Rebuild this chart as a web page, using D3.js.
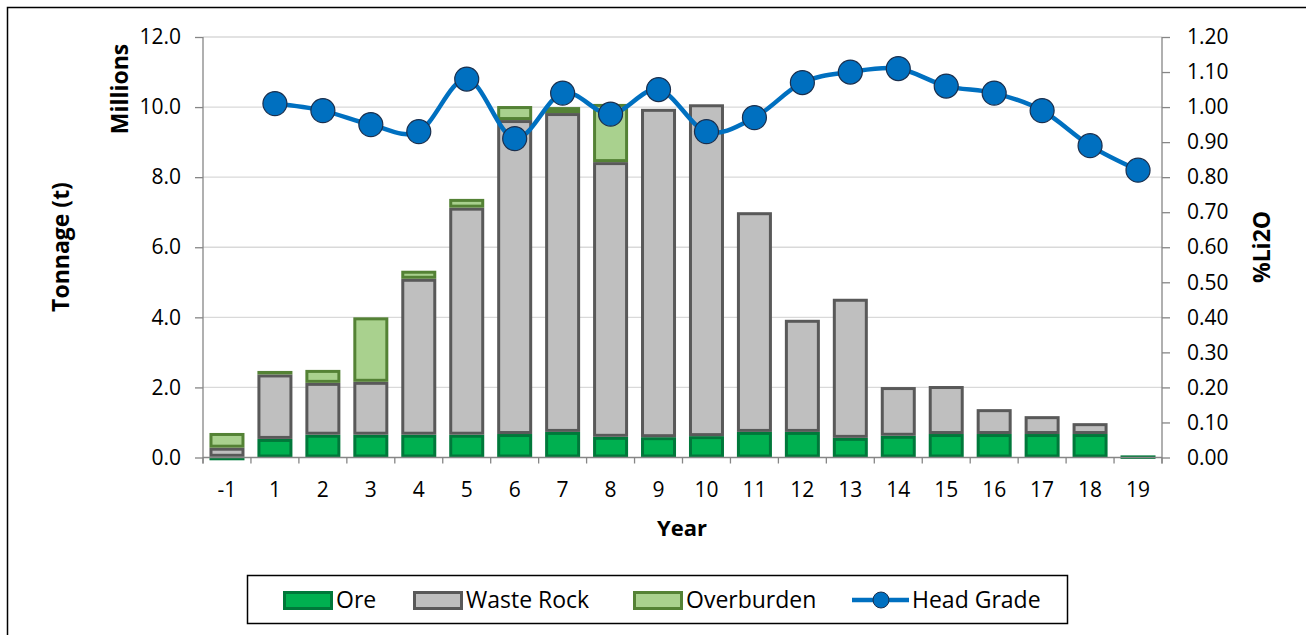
<!DOCTYPE html>
<html>
<head>
<meta charset="utf-8">
<script src="https://cdn.jsdelivr.net/npm/d3@7"></script>
<style>
    body { margin: 0; background: white; }
    svg { display: block; font-family: "Open Sans", sans-serif; }
</style>
</head>
<body>
<div id="chart"></div>
<script>
const years = ["-1", "1", "2", "3", "4", "5", "6", "7", "8", "9", "10", "11", "12", "13", "14", "15", "16", "17", "18", "19"];
const ore = [0.02, 0.53, 0.65, 0.65, 0.65, 0.65, 0.67, 0.73, 0.59, 0.58, 0.61, 0.73, 0.73, 0.56, 0.62, 0.67, 0.67, 0.67, 0.67, 0.06];
const wasteRock = [0.26, 1.84, 1.48, 1.51, 4.45, 6.48, 8.96, 9.10, 7.84, 9.37, 9.47, 6.27, 3.20, 3.97, 1.39, 1.37, 0.71, 0.51, 0.31, 0.0];
const overburden = [0.42, 0.10, 0.37, 1.84, 0.23, 0.25, 0.40, 0.17, 1.66, 0.0, 0.0, 0.0, 0.0, 0.0, 0.0, 0.0, 0.0, 0.0, 0.0, 0.0];
const headGrade = [null, 1.01, 0.99, 0.95, 0.93, 1.08, 0.91, 1.04, 0.98, 1.05, 0.93, 0.97, 1.07, 1.10, 1.11, 1.06, 1.04, 0.99, 0.89, 0.82];
const leftTicks = [0, 2, 4, 6, 8, 10, 12];
const rightTicks = d3.range(0, 13).map(d => d / 10);

const width = 1306, height = 635;
const plot = { left: 203, right: 1162, top: 37, bottom: 457.5 };

const svg = d3.select("#chart").append("svg")
    .attr("width", width)
    .attr("height", height);

// outer frame (runs off the right and bottom edge)
svg.append("rect")
    .attr("x", 7.5).attr("y", 7.5)
    .attr("width", width + 20).attr("height", height + 20)
    .attr("fill", "none").attr("stroke", "black").attr("stroke-width", 1.5);

const x = d3.scaleBand().domain(years).range([plot.left, plot.right]).paddingInner(0.27).paddingOuter(0.135);
const yLeft = d3.scaleLinear().domain([0, 12]).range([plot.bottom, plot.top]);
const yRight = d3.scaleLinear().domain([0, 1.2]).range([plot.bottom, plot.top]);

// gridlines
svg.append("g")
    .selectAll("line")
    .data(leftTicks.filter(d => d > 0))
    .enter().append("line")
    .attr("x1", plot.left).attr("x2", plot.right)
    .attr("y1", d => yLeft(d)).attr("y2", d => yLeft(d))
    .attr("stroke", "#d9d9d9").attr("stroke-width", 1.3);

// stacked bars
const rows = years.map((y, i) => ({ year: y, ore: ore[i], waste: wasteRock[i], over: overburden[i] }));
const keys = ["ore", "waste", "over"];
const fills = { ore: "#00b050", waste: "#bfbfbf", over: "#a9d18e" };
const strokes = { ore: "#00783a", waste: "#595959", over: "#548235" };
const stacked = d3.stack().keys(keys)(rows);

svg.append("g")
    .selectAll("g")
    .data(stacked)
    .enter().append("g")
    .attr("fill", d => fills[d.key])
    .attr("stroke", d => strokes[d.key])
    .attr("stroke-width", 3)
    .selectAll("rect")
    .data(d => d.filter(p => p[1] - p[0] > 0))
    .enter().append("rect")
    .attr("x", d => x(d.data.year) + 1.5)
    .attr("width", x.bandwidth() - 3)
    .attr("y", d => yLeft(d[1]) + 1.5)
    .attr("height", d => Math.max(0.5, yLeft(d[0]) - yLeft(d[1]) - 3));

// axes
const axisColor = "#868686";
const tickFont = 21;
const axisLeft = svg.append("g")
    .attr("transform", `translate(${plot.left},0)`)
    .call(d3.axisLeft(yLeft).tickValues(leftTicks).tickFormat(d3.format(".1f")).tickSize(8).tickPadding(14));
const axisRight = svg.append("g")
    .attr("transform", `translate(${plot.right},0)`)
    .call(d3.axisRight(yRight).tickValues(rightTicks).tickFormat(d3.format(".2f")).tickSize(8).tickPadding(17));

const bottom = svg.append("g");
bottom.append("line")
    .attr("x1", plot.left).attr("x2", plot.right)
    .attr("y1", plot.bottom).attr("y2", plot.bottom)
    .attr("stroke", axisColor).attr("stroke-width", 1.3);
const boundaries = years.map(y => x(y) - x.step() * x.paddingInner() / 2).concat([plot.right]);
bottom.selectAll("line.tick")
    .data(boundaries)
    .enter().append("line")
    .attr("class", "tick")
    .attr("x1", d => d).attr("x2", d => d)
    .attr("y1", plot.bottom).attr("y2", plot.bottom + 6)
    .attr("stroke", axisColor).attr("stroke-width", 1.3);
bottom.selectAll("text")
    .data(years)
    .enter().append("text")
    .attr("x", d => x(d) + x.bandwidth() / 2)
    .attr("y", 497)
    .attr("text-anchor", "middle")
    .attr("font-size", tickFont)
    .attr("fill", "#000")
    .text(d => d);

[axisLeft, axisRight].forEach(a => {
    a.select(".domain").attr("stroke", axisColor).attr("stroke-width", 1.3);
    a.selectAll(".tick line").attr("stroke", axisColor).attr("stroke-width", 1.3);
    a.selectAll(".tick text").attr("font-size", tickFont).attr("fill", "#000").attr("font-family", "Open Sans");
});
axisLeft.select(".domain").attr("d", `M0,${plot.top}V${plot.bottom + 6}`);
axisRight.select(".domain").attr("d", `M0,${plot.top}V${plot.bottom + 6}`);

// head grade line
const pts = years.map((y, i) => ({ year: y, v: headGrade[i] })).filter(d => d.v !== null);
const line = d3.line()
    .x(d => x(d.year) + x.bandwidth() / 2)
    .y(d => yRight(d.v))
    .curve(d3.curveCatmullRom.alpha(0));

svg.append("path")
    .datum(pts)
    .attr("fill", "none")
    .attr("stroke", "#0070c0")
    .attr("stroke-width", 4.5)
    .attr("d", line);

svg.append("g")
    .selectAll("circle")
    .data(pts)
    .enter().append("circle")
    .attr("cx", d => x(d.year) + x.bandwidth() / 2)
    .attr("cy", d => yRight(d.v))
    .attr("r", 12)
    .attr("fill", "#0070c0")
    .attr("stroke", "#1b2f4d")
    .attr("stroke-width", 1.2);

// axis titles
svg.append("text")
    .attr("transform", "translate(69,247) rotate(-90)")
    .attr("text-anchor", "middle")
    .attr("font-size", 23).attr("font-weight", "bold")
    .text("Tonnage (t)");
svg.append("text")
    .attr("transform", "translate(128,89) rotate(-90)")
    .attr("text-anchor", "middle")
    .attr("font-size", 23).attr("font-weight", "bold")
    .text("Millions");
svg.append("text")
    .attr("transform", "translate(1270,247) rotate(-90)")
    .attr("text-anchor", "middle")
    .attr("font-size", 23).attr("font-weight", "bold")
    .text("%Li2O");
svg.append("text")
    .attr("x", 682).attr("y", 536)
    .attr("text-anchor", "middle")
    .attr("font-size", 22).attr("font-weight", "bold")
    .text("Year");

// legend
const legend = svg.append("g");
legend.append("rect")
    .attr("x", 247.5).attr("y", 575.5)
    .attr("width", 820).attr("height", 48)
    .attr("fill", "white").attr("stroke", "black").attr("stroke-width", 1.5);

const legendItems = [
    { label: "Ore", key: "ore", x: 283 },
    { label: "Waste Rock", key: "waste", x: 413 },
    { label: "Overburden", key: "over", x: 633 }
];
legendItems.forEach(item => {
    legend.append("rect")
        .attr("x", item.x + 1.5).attr("y", 592.5)
        .attr("width", 47).attr("height", 16)
        .attr("fill", fills[item.key]).attr("stroke", strokes[item.key]).attr("stroke-width", 3);
    legend.append("text")
        .attr("x", item.x + 53).attr("y", 608)
        .attr("font-size", 23)
        .text(item.label);
});
legend.append("line")
    .attr("x1", 852).attr("x2", 909)
    .attr("y1", 600).attr("y2", 600)
    .attr("stroke", "#0070c0").attr("stroke-width", 4.5);
legend.append("circle")
    .attr("cx", 881).attr("cy", 600).attr("r", 8)
    .attr("fill", "#0070c0").attr("stroke", "#1b2f4d").attr("stroke-width", 1);
legend.append("text")
    .attr("x", 912).attr("y", 608)
    .attr("font-size", 23)
    .text("Head Grade");
</script>
</body>
</html>
